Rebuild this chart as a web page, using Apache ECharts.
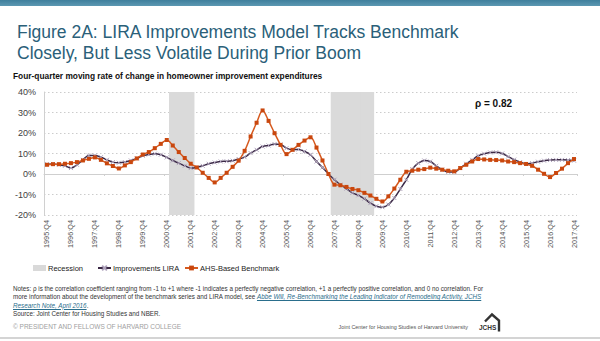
<!DOCTYPE html>
<html><head><meta charset="utf-8">
<script src="https://cdn.jsdelivr.net/npm/echarts@6/dist/echarts.min.js"></script>
<style>
html,body{margin:0;padding:0;background:#fff;font-family:"Liberation Sans",Arial,sans-serif;}
#wrap{position:relative;width:600px;height:341px;overflow:hidden;}
#chart{position:absolute;left:0;top:0;width:600px;height:341px;}
#topbar{position:absolute;left:0;top:0;width:600px;height:6px;background:linear-gradient(#3f7f9c,#5c98b2);}
#notes{position:absolute;left:13px;top:285px;font-size:6.3px;line-height:8.3px;color:#333;white-space:nowrap;}
#notes a{color:#2a6e8c;font-style:italic;text-decoration:underline;}
#copy{position:absolute;left:13px;top:323px;font-size:6.5px;color:#a0a0a0;white-space:nowrap;}
#jc{position:absolute;right:132px;top:323.5px;font-size:5.4px;color:#555;white-space:nowrap;}
#bottomline{position:absolute;left:0;top:337px;width:600px;height:2px;background:#d4d4d4;}
</style></head><body>
<div id="wrap">
<div id="chart"></div>
<div id="topbar"></div>
<div id="notes">Notes: ρ is the correlation coefficient ranging from -1 to +1 where -1 indicates a perfectly negative correlation, +1 a perfectly positive correlation, and 0 no correlation. For<br>more information about the development of the benchmark series and LIRA model, see <a>Abbe Will, Re-Benchmarking the Leading Indicator of Remodeling Activity, JCHS<br>Research Note, April 2016</a>.<br>Source: Joint Center for Housing Studies and NBER.</div>
<div id="copy">© PRESIDENT AND FELLOWS OF HARVARD COLLEGE</div>
<div id="jc">Joint Center for Housing Studies of Harvard University</div>
<div id="bottomline"></div>
</div>
<script>
// Categories: quarterly, 1995:Q4 .. 2017:Q4
const categories = [];
for (let y = 1995; y <= 2017; y++) {
  for (let q = 1; q <= 4; q++) {
    if (y === 1995 && q < 4) continue;
    categories.push(y + ':Q' + q);
  }
}

// Improvements LIRA (%)
const lira = [
  4.8, 4.9, 4.5, 4.0, 2.9, 4.5, 6.9, 9.0, 9.0, 8.2,
  6.9, 5.8, 5.5, 5.8, 6.6, 7.6, 8.9, 9.5, 9.9, 9.4,
  8.1, 6.6, 5.3, 4.0, 2.9, 3.2, 4.0, 5.0, 5.6, 6.1,
  6.2, 6.5, 7.3, 8.2, 10.2, 11.8, 13.4, 13.9, 14.6, 14.4,
  12.6, 11.8, 12.0, 11.0, 9.4, 6.1, 3.2, 0.0, -2.8, -5.2,
  -7.1, -9.2, -10.4, -12.0, -14.2, -15.7, -16.2, -14.9, -11.7, -7.3,
  -2.8, 2.4, 5.3, 6.6, 6.1, 4.0, 2.1, 1.0, 1.0, 2.9,
  5.0, 6.9, 8.9, 9.9, 10.5, 10.6, 10.0, 8.5, 7.0, 5.8,
  4.9, 5.3, 6.0, 6.5, 6.8, 6.9, 6.9, 6.8, 6.5
];

// AHS-Based Benchmark (%)
const ahs = [
  4.5, 4.8, 4.8, 5.0, 5.3, 5.8, 6.6, 7.4, 8.1, 6.9,
  5.2, 3.9, 2.7, 4.2, 5.8, 7.6, 9.5, 10.7, 12.6, 14.7,
  16.6, 13.9, 10.7, 7.8, 5.0, 3.2, 0.6, -1.9, -4.1, -1.9,
  0.6, 3.5, 6.5, 11.3, 18.3, 25.0, 31.0, 25.9, 19.9, 14.2,
  9.7, 11.8, 14.2, 16.3, 17.9, 12.9, 6.6, 0.0, -5.2, -5.5,
  -6.3, -7.3, -7.9, -9.2, -10.5, -12.1, -13.4, -10.9, -7.1, -2.8,
  1.1, 1.6, 2.1, 2.4, 3.1, 2.6, 2.1, 1.6, 1.3, 2.9,
  4.5, 6.1, 7.3, 7.1, 6.9, 6.8, 6.6, 6.1, 5.8, 5.3,
  4.9, 4.0, 2.1, 0.1, -1.5, 0.5, 2.6, 5.3, 7.3
];

// Recession periods (NBER)
const recessions = [['2001:Q1', '2001:Q4'], ['2007:Q4', '2009:Q2']];

const yMin = -20, yMax = 40, yStep = 10;
const rho = 'ρ = 0.82';

const inRec = categories.map((c, i) => recessions.some(r => i >= categories.indexOf(r[0]) && i <= categories.indexOf(r[1])));
const recUp = inRec.map(b => b ? yMax : '-');
const recDown = inRec.map(b => b ? yMin : '-');

const FONT = '"Liberation Sans", Arial, sans-serif';
const legendBase = {
  top: 264, padding: 0, itemWidth: 13, itemHeight: 6,
  textStyle: {fontSize: 7.5, color: '#222', padding: [0, 0, 0, -3]}
};
const chart = echarts.init(document.getElementById('chart'), null, {renderer: 'svg'});
chart.setOption({
  animation: false,
  textStyle: {fontFamily: FONT},
  title: {
    text: 'Figure 2A: LIRA Improvements Model Tracks Benchmark\nClosely, But Less Volatile During Prior Boom',
    left: 12, top: 16,
    textStyle: {fontSize: 17.5, lineHeight: 21, fontWeight: 'normal', color: '#2a6079', fontFamily: FONT}
  },
  graphic: [
    {type: 'text', left: 13, top: 72, style: {text: 'Four-quarter moving rate of change in homeowner improvement expenditures', font: 'bold 8.35px "Liberation Sans", Arial, sans-serif', fill: '#111'}},
    {type: 'text', left: 475, top: 98, style: {text: rho, font: 'bold 10px "Liberation Sans", Arial, sans-serif', fill: '#111'}},
    {type: 'group', left: 479, top: 312, children: [
      {type: 'polyline', shape: {points: [[6, 9], [13, 2], [20, 8], [20, 19]]}, style: {stroke: '#333', lineWidth: 2.4, fill: 'none'}},
      {type: 'text', x: 0, y: 11, style: {text: 'JCHS', font: 'bold 6.5px "Liberation Sans", Arial, sans-serif', fill: '#333'}}
    ]}
  ],
  legend: [
    Object.assign({left: 33, data: [{name: 'Recession', icon: 'rect', itemStyle: {color: '#d9d9d9'}}]}, legendBase),
    Object.assign({left: 97, data: [{name: 'Improvements LIRA'}]}, legendBase),
    Object.assign({left: 184, data: [{name: 'AHS-Based Benchmark'}]}, legendBase)
  ],
  grid: {left: 44, top: 92, width: 533, height: 123},
  xAxis: [
    {
      type: 'category', data: categories, boundaryGap: true,
      axisLine: {show: false, onZero: false}, axisTick: {show: false},
      axisLabel: {interval: 3, rotate: 90, fontSize: 7.3, color: '#555', margin: 5}
    },
    {
      type: 'category', data: categories, boundaryGap: true, position: 'bottom',
      axisLine: {show: true, onZero: true, lineStyle: {color: '#cfcfcf', width: 1}},
      axisTick: {show: true, length: 2, lineStyle: {color: '#cfcfcf'}},
      axisLabel: {show: false}
    }
  ],
  yAxis: {
    type: 'value', min: yMin, max: yMax, interval: yStep,
    axisLine: {show: true, lineStyle: {color: '#d0d0d0'}},
    axisTick: {show: false},
    axisLabel: {formatter: '{value}%', fontSize: 9, color: '#404040', margin: 8},
    splitLine: {lineStyle: {color: '#cccccc', type: [1.5, 2.5], width: 1}}
  },
  series: [
    {name: 'Recession', type: 'bar', stack: 'rec', data: recUp, barWidth: '125%',
      itemStyle: {color: '#dadada'}, silent: true},
    {name: 'Recession', type: 'bar', stack: 'rec', data: recDown, barWidth: '125%',
      itemStyle: {color: '#dadada'}, silent: true},
    {name: 'Improvements LIRA', type: 'line', data: lira, smooth: 0.35,
      symbol: 'path://M0,0L10,10M10,0L0,10', symbolSize: 4, showAllSymbol: true,
      lineStyle: {color: '#3b2946', width: 1.5},
      itemStyle: {color: '#b0a4bd', borderColor: '#b0a4bd', borderWidth: 1}, z: 3},
    {name: 'AHS-Based Benchmark', type: 'line', data: ahs, smooth: 0.35,
      symbol: 'rect', symbolSize: 4, showAllSymbol: true,
      lineStyle: {color: '#d65a1f', width: 1.5},
      itemStyle: {color: '#c9470e'}, z: 4}
  ]
});
</script>
</body></html>
